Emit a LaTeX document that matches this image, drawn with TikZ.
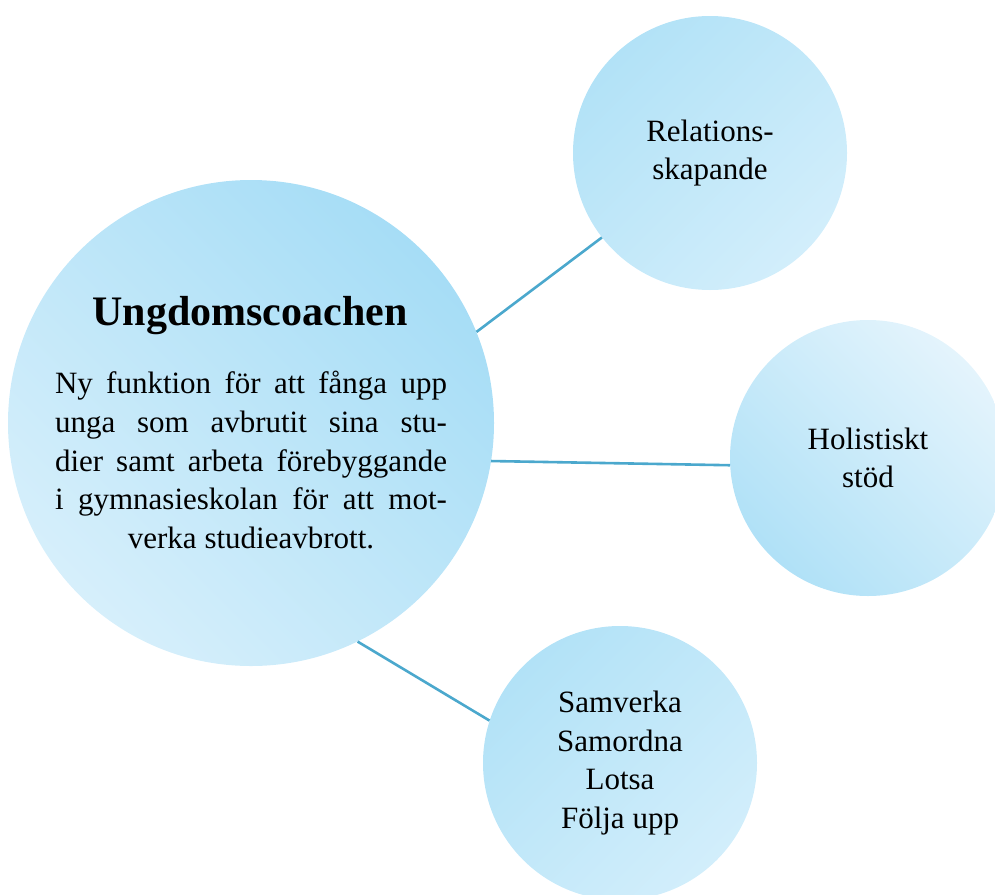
\documentclass[tikz,border=0pt]{standalone}
\usepackage{fontspec}
\setmainfont{Liberation Serif}
\definecolor{mainD}{RGB}{166,221,246}
\definecolor{mainL}{RGB}{214,239,251}
\definecolor{relD}{RGB}{178,226,247}
\definecolor{relL}{RGB}{210,238,251}
\definecolor{holD}{RGB}{176,225,247}
\definecolor{holL}{RGB}{228,244,252}
\definecolor{linkblue}{RGB}{75,168,205}
\begin{document}
\begin{tikzpicture}[x=1pt,y=-1pt,
  bubble/.style={circle, inner sep=0pt, align=center, font=\fontsize{31}{38.5}\selectfont},
  link/.style={line width=2.6pt, draw=linkblue}]
\useasboundingbox (0,0) rectangle (995,894);
\clip (0,0) rectangle (995,894);
\node[bubble, minimum size=486pt, top color=mainD, bottom color=mainL, shading angle=-45] (main) at (251,423) {};
\node[bubble, minimum size=274pt, top color=relD, bottom color=relL, shading angle=45] (rel) at (710,153) {Relations-\\skapande};
\node[bubble, minimum size=276pt, top color=holD, bottom color=holL, shading angle=135] (hol) at (868,458) {Holistiskt\\stöd};
\node[bubble, minimum size=274pt, top color=relD, bottom color=relL, shading angle=45] (sam) at (620,763) {Samverka\\Samordna\\Lotsa\\Följa upp};
\node[anchor=base, inner sep=0pt, font=\fontsize{42}{50}\selectfont\bfseries] (title) at (250,325) {Ungdomscoachen};
\node[inner sep=0pt, align=center, font=\fontsize{31}{38.75}\selectfont] (desc) at (251,460)
  {\makebox[392pt][s]{Ny funktion för att fånga upp}\\
   \makebox[392pt][s]{unga som avbrutit sina stu-}\\
   \makebox[392pt][s]{dier samt arbeta förebyggande}\\
   \makebox[392pt][s]{i gymnasieskolan för att mot-}\\
   verka studieavbrott.};
\draw[link] (main.22.9) -- (rel.218.7);
\draw[link] (main.-9.4) -- (hol.183.8);
\draw[link] (main.-64.8) -- (sam.162);
\end{tikzpicture}
\end{document}
